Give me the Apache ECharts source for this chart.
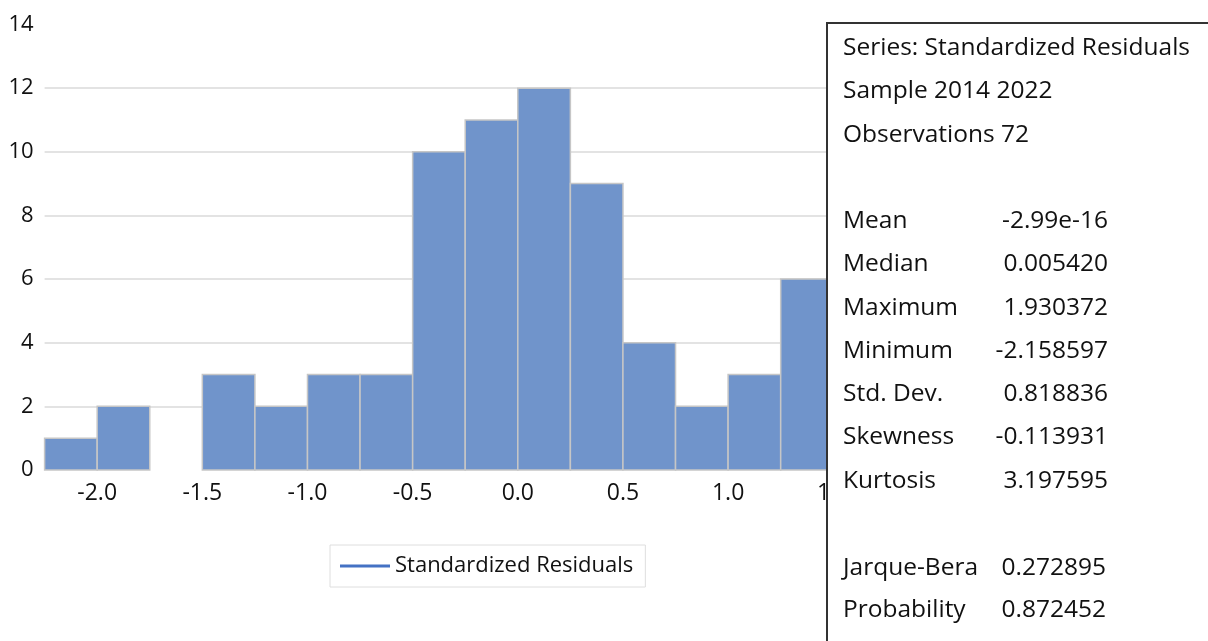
<!DOCTYPE html>
<html>
<head>
<meta charset="utf-8">
<script src="https://cdn.jsdelivr.net/npm/echarts@6/dist/echarts.min.js"></script>
<style>
html,body{margin:0;padding:0;background:#fff;}
#chart{width:1208px;height:641px;}
</style>
</head>
<body>
<div id="chart"></div>
<script>
// histogram bins (lower edge, upper edge) and counts
var binStart = [-2.25,-2.0,-1.75,-1.5,-1.25,-1.0,-0.75,-0.5,-0.25,0.0,0.25,0.5,0.75,1.0,1.25,1.5,1.75];
var binEnd   = [-2.0,-1.75,-1.5,-1.25,-1.0,-0.75,-0.5,-0.25,0.0,0.25,0.5,0.75,1.0,1.25,1.5,1.75,2.0];
var counts   = [1,2,0,3,2,3,3,10,11,12,9,4,2,3,6,0,1];
var seriesName = 'Standardized Residuals';

// statistics box
var headLines = ['Series: Standardized Residuals','Sample 2014 2022','Observations 72'];
var statNames = ['Mean','Median','Maximum','Minimum','Std. Dev.','Skewness','Kurtosis'];
var statVals  = ['-2.99e-16','0.005420','1.930372','-2.158597','0.818836','-0.113931','3.197595'];
var testNames = ['Jarque-Bera','Probability'];
var testVals  = ['0.272895','0.872452'];

var font = 'Open Sans';
var txtColor = '#111';

var data = [];
for (var i = 0; i < counts.length; i++) data.push([binStart[i], binEnd[i], counts[i]]);

var myChart = echarts.init(document.getElementById('chart'));

var graphics = [{
  type:'rect', left:826, top:22, z:100,
  shape:{width:420, height:660},
  style:{fill:'#fff', stroke:'#333', lineWidth:2}
}];
function addText(x, y, t, align){
  graphics.push({type:'text', x:x, y:y, z:101,
    style:{text:t, fill:txtColor, font:'24.5px "' + font + '"', textAlign:align||'left', textVerticalAlign:'middle'}});
}
for (var a = 0; a < headLines.length; a++) addText(843, 48 + a*43.5, headLines[a]);
for (var b = 0; b < statNames.length; b++){
  addText(843, 221 + b*43.3, statNames[b]);
  addText(1108, 221 + b*43.3, statVals[b], 'right');
}
for (var c = 0; c < testNames.length; c++){
  addText(843, 568 + c*42, testNames[c]);
  addText(1106, 568 + c*42, testVals[c], 'right');
}

var option = {
  animation:false,
  grid:{left:44.6, right:217, top:24.5, bottom:171},
  xAxis:{
    type:'value', min:-2.25, max:2.25, interval:0.25,
    axisLine:{show:false}, axisTick:{show:false}, splitLine:{show:false},
    axisLabel:{
      color:txtColor, fontFamily:font, fontSize:23, margin:12,
      formatter:function(v){
        var r = Math.round(v*4);
        return (r % 2 === 0) ? v.toFixed(1) : '';
      }
    }
  },
  yAxis:{
    type:'value', min:0, max:14, interval:2,
    axisLine:{show:false}, axisTick:{show:false},
    axisLabel:{color:txtColor, fontFamily:font, fontSize:22, margin:11},
    splitLine:{lineStyle:{color:['transparent','#e3e3e3','#e3e3e3','#e3e3e3','#e3e3e3','#e3e3e3','#e3e3e3','transparent'], width:2}}
  },
  legend:{
    left:330, top:545, width:330,
    data:[{name:seriesName, icon:'rect', itemStyle:{color:'#4472C4', borderWidth:0}}],
    itemWidth:50, itemHeight:3, itemGap:10,
    borderColor:'#dedede', borderWidth:1, padding:[10,12,10,10],
    textStyle:{color:txtColor, fontFamily:font, fontSize:22, padding:[0,0,3,0]}
  },
  series:[{
    type:'custom', name:seriesName,
    data:data,
    encode:{x:[0,1], y:2},
    renderItem:function(params, api){
      var p0 = api.coord([api.value(0), 0]);
      var p1 = api.coord([api.value(1), api.value(2)]);
      if (api.value(2) === 0) return;
      return {
        type:'rect',
        shape:{x:p0[0], y:p1[1], width:p1[0]-p0[0], height:p0[1]-p1[1]},
        style:{fill:'#7094cb', stroke:'#c6c6c6', lineWidth:1.5}
      };
    }
  }],
  graphic:graphics
};
myChart.setOption(option);
</script>
</body>
</html>
